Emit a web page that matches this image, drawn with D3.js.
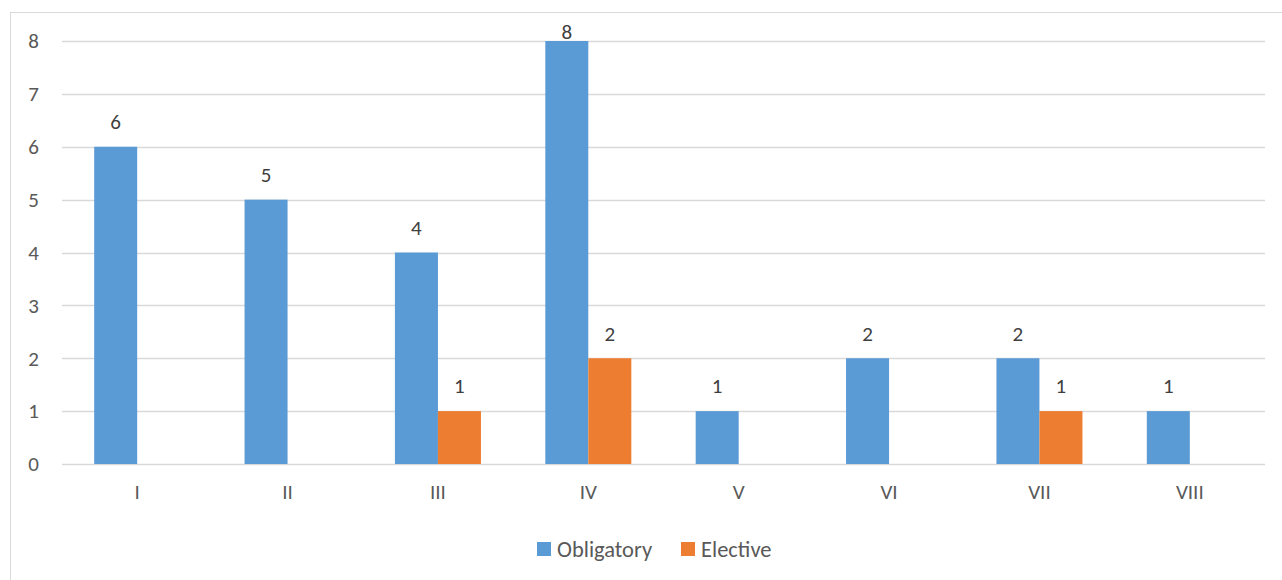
<!DOCTYPE html>
<html><head><meta charset="utf-8">
<script src="https://cdn.jsdelivr.net/npm/d3@7"></script>
<style>body{margin:0;background:#fff;}svg{display:block;font-family:Carlito,Calibri,Lato,"Open Sans",sans-serif;}</style>
</head><body>
<svg id="c" width="1282" height="580"></svg>
<script>
const categories = ["I","II","III","IV","V","VI","VII","VIII"];
const obligatory = [6,5,4,8,1,2,2,1];
const elective = [null,null,1,2,null,null,1,null];
const seriesNames = ["Obligatory","Elective"];
const colors = ["#5b9bd5","#ed7d31"];
const yTicks = [0,1,2,3,4,5,6,7,8];

(function(){
const svg = d3.select("#c");
svg.append("rect").attr("x",10.5).attr("y",12.5).attr("width",1290).attr("height",600)
  .attr("fill","none").attr("stroke","#d9d9d9");

const pL=62,pR=1265,pT=41,pB=464;
const x = d3.scaleBand().domain(categories).range([pL,pR]).padding(0);
const y = d3.scaleLinear().domain([0,8]).range([pB,pT]);
const barW = x.bandwidth()*0.286;

svg.append("g").selectAll("line").data(yTicks).join("line")
  .attr("x1",pL).attr("x2",pR).attr("y1",d=>Math.round(y(d))+0.5).attr("y2",d=>Math.round(y(d))+0.5)
  .attr("stroke","#d9d9d9").attr("stroke-width",1.5);

svg.append("g").selectAll("text").data(yTicks).join("text")
  .attr("x",39).attr("y",d=>y(d)).attr("dy","0.35em").attr("text-anchor","end")
  .attr("fill","#595959").attr("font-size",21).text(d=>d);

svg.append("g").selectAll("text").data(categories).join("text")
  .attr("x",d=>x(d)+x.bandwidth()/2).attr("y",pB+28).attr("dy","0.35em").attr("text-anchor","middle")
  .attr("fill","#595959").attr("font-size",21).text(d=>d);

const series=[obligatory,elective];
series.forEach((vals,si)=>{
  const g=svg.append("g");
  const data=categories.map((c,i)=>({c,v:vals[i]})).filter(d=>d.v!=null);
  g.selectAll("rect").data(data).join("rect")
    .attr("x",d=>x(d.c)+x.bandwidth()/2-barW+si*barW).attr("width",barW)
    .attr("y",d=>y(d.v)).attr("height",d=>pB-y(d.v)).attr("fill",colors[si]);
  g.selectAll("text").data(data).join("text")
    .attr("x",d=>x(d.c)+x.bandwidth()/2-barW/2+si*barW)
    .attr("y",d=>Math.max(y(d.v)-25,pT-9)).attr("dy","0.35em").attr("text-anchor","middle")
    .attr("fill","#404040").attr("font-size",21).text(d=>d.v);
});

const leg=svg.append("g");
const legX=[537,681];
seriesNames.forEach((n,i)=>{
  leg.append("rect").attr("x",legX[i]).attr("y",542).attr("width",14).attr("height",14).attr("fill",colors[i]);
  leg.append("text").attr("x",legX[i]+20).attr("y",549).attr("dy","0.35em")
    .attr("fill","#595959").attr("font-size",22.5).text(n);
});
})();
</script>
</body></html>
